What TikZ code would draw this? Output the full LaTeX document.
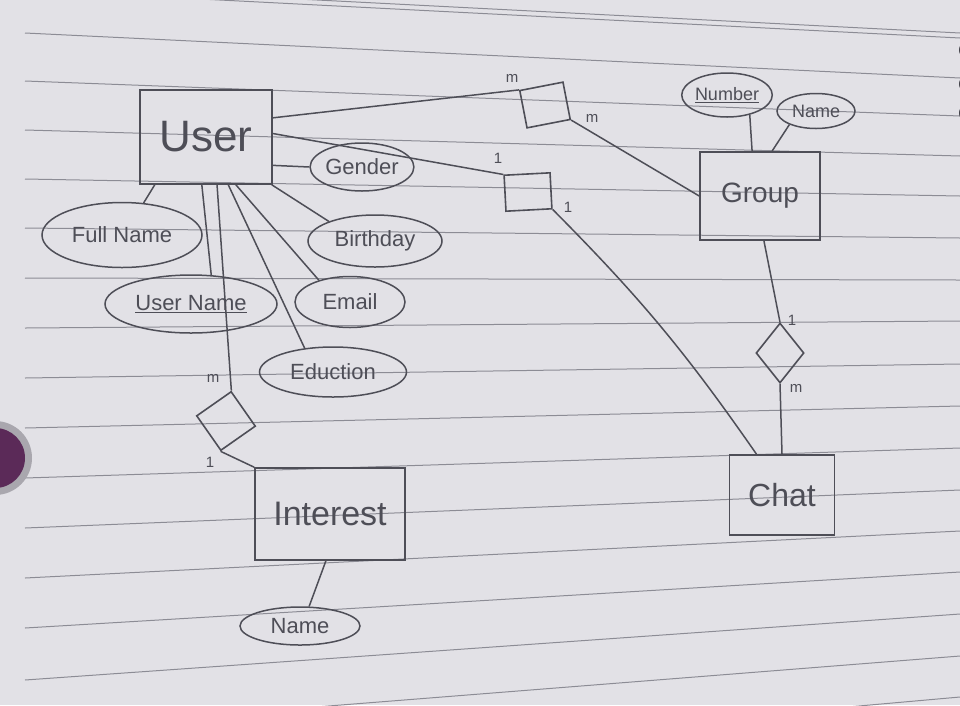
\documentclass[tikz,border=0pt]{standalone}
\usepackage{fontspec}
\setmainfont{Liberation Sans}
\usetikzlibrary{shapes.geometric}
\definecolor{paper}{HTML}{E2E1E6}
\definecolor{rulecol}{HTML}{8C8C95}
\definecolor{pencil}{HTML}{4E4E57}
\definecolor{blob}{HTML}{5B2A58}
\definecolor{ring}{HTML}{A9A7AE}
\definecolor{hole}{HTML}{45454C}
\begin{document}
\begin{tikzpicture}[x=1pt,y=-1pt,
  ent/.style={draw=pencil, line width=1.6pt, rectangle, inner sep=0pt, text=pencil},
  attr/.style={draw=pencil, line width=1.5pt, ellipse, inner sep=0pt, text=pencil,
               font=\fontsize{22}{24}\selectfont},
  sattr/.style={attr, font=\fontsize{18}{20}\selectfont},
  relbox/.style={draw=pencil, line width=1.6pt, rectangle, inner sep=0pt},
  reldia/.style={draw=pencil, line width=1.6pt, diamond, inner sep=0pt},
  conn/.style={draw=pencil, line width=1.5pt},
  card/.style={text=pencil, font=\fontsize{15}{16}\selectfont, inner sep=0pt},
  ruling/.style={draw=rulecol, line width=1pt}]

\fill[paper] (0,0) rectangle (960,705);
\useasboundingbox (0,0) rectangle (960,705);
\begin{scope}
  \clip (0,0) rectangle (960,705);
  \foreach \l/\r in {-15/33, 33/78, 81/116, 130/156, 179/196, 228/238, 278/280,
                     328/321, 378/364, 428/406, 478/448, 528/490, 578/531,
                     628/572, 680/614, 730/656, 780/697}
    \draw[ruling] (25,\l) -- (960,\r);
  \draw[ruling] (25,-10) -- (960,38);
  \fill[ring] (-5,458) circle (37pt);
  \fill[blob] (-5,458) circle (30pt);
  \foreach \hy in {50,84,113}
    \fill[hole] (964,\hy) ellipse (5pt and 7pt);
\end{scope}

% entities
\node[ent, minimum width=132pt, minimum height=94pt, font=\fontsize{44}{48}\selectfont] (user) at (206,137) {User};
\node[ent, minimum width=120pt, minimum height=88pt, font=\fontsize{28}{30}\selectfont] (group) at (760,196) {Group};
\node[ent, minimum width=105pt, minimum height=80pt, font=\fontsize{32}{34}\selectfont] (chat) at (782,495) {Chat};
\node[ent, minimum width=150pt, minimum height=92pt, font=\fontsize{34}{36}\selectfont] (interest) at (330,514) {Interest};

% attributes
\node[attr, minimum width=103pt, minimum height=48pt] (gender) at (362,167) {Gender};
\node[attr, minimum width=160pt, minimum height=65pt] (fullname) at (122,235) {Full Name};
\node[attr, minimum width=134pt, minimum height=52pt] (birthday) at (375,241) {Birthday};
\node[attr, minimum width=172pt, minimum height=58pt] (username) at (191,304) {\underline{User Name}};
\node[attr, minimum width=110pt, minimum height=51pt] (email) at (350,302) {Email};
\node[attr, minimum width=147pt, minimum height=50pt] (eduction) at (333,372) {Eduction};
\node[attr, minimum width=120pt, minimum height=38pt] (iname) at (300,626) {Name};
\node[sattr, minimum width=87pt, minimum height=44pt] (number) at (727,95) {\underline{Number}};
\node[sattr, minimum width=78pt, minimum height=35pt] (gname) at (816,111) {Name};

% relationships
\node[relbox, minimum width=44pt, minimum height=38pt, rotate=11] (mm) at (545,105) {};
\node[relbox, minimum width=46pt, minimum height=36pt, rotate=3] (oo) at (528,192) {};
\node[relbox, minimum width=42pt, minimum height=42pt, rotate=35] (intrel) at (226,421) {};
\node[reldia, minimum width=48pt, minimum height=60pt] (gc) at (780,353) {};

% connectors
\draw[conn] (user.16) -- (mm.north west);
\draw[conn] (mm.south east) -- (group.west);
\draw[conn] (user.3) -- (oo.north west);
\draw[conn] (oo.south east) to[bend left=5] (chat.122);
\draw[conn] (group.-85) -- (gc.north);
\draw[conn] (gc.south) -- (chat.north);
\draw[conn] (number.-41) -- (group.100);
\draw[conn] (gname.-153) -- (group.75);
\draw[conn] (user.-23) -- (gender.west);
\draw[conn] (user.-137) -- (fullname.56);
\draw[conn] (user.-95) -- (username.55);
\draw[conn] (user.-77) -- (intrel.north east);
\draw[conn] (user.-65) -- (eduction.140);
\draw[conn] (user.-58) -- (email.145);
\draw[conn] (user.-36) -- (birthday.157);
\draw[conn] (intrel.south west) -- (interest.north west);
\draw[conn] (interest.-95) -- (iname.65);

% cardinalities
\node[card] (c1) at (512,78) {m};
\node[card] (c2) at (592,118) {m};
\node[card] (c3) at (498,158) {1};
\node[card] (c4) at (568,207) {1};
\node[card] (c5) at (792,320) {1};
\node[card] (c6) at (796,388) {m};
\node[card] (c7) at (213,378) {m};
\node[card] (c8) at (210,462) {1};
\end{tikzpicture}
\end{document}
